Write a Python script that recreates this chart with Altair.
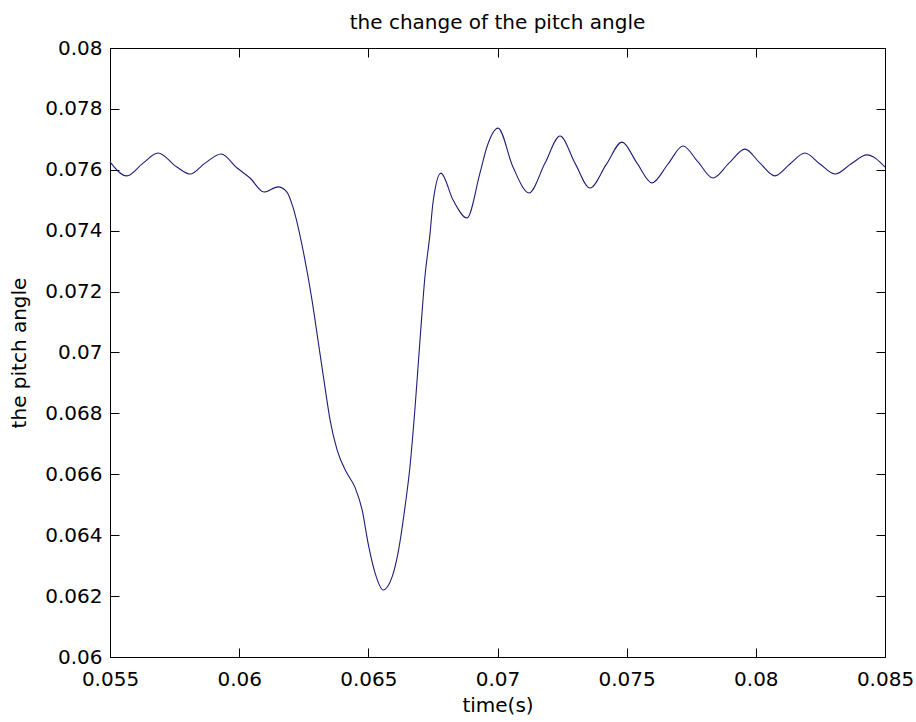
import altair as alt
import pandas as pd

# Pitch angle response over time
time_s = [
    0.0550, 0.05565, 0.05628, 0.05686, 0.05759, 0.05810, 0.05868, 0.05930,
    0.05992, 0.06042, 0.06096, 0.06150, 0.06185, 0.06208, 0.06247, 0.06282,
    0.06305, 0.06332, 0.06352, 0.06379, 0.06417, 0.06448, 0.06476, 0.06499,
    0.06526, 0.06557, 0.06592, 0.06615, 0.06642, 0.06661, 0.06681, 0.06700,
    0.06719, 0.06739, 0.06750, 0.06781, 0.06828, 0.06882, 0.06932, 0.06959,
    0.07002, 0.07060, 0.07122, 0.07184, 0.07242, 0.07300, 0.07358, 0.07420,
    0.07482, 0.07540, 0.07598, 0.07660, 0.07718, 0.07776, 0.07834, 0.07896,
    0.07958, 0.08016, 0.08074, 0.08132, 0.08190, 0.08248, 0.08307, 0.08368,
    0.08430, 0.08500,
]
pitch = [
    0.07626, 0.07580, 0.07622, 0.07655, 0.07609, 0.07586, 0.07622, 0.07652,
    0.07606, 0.07573, 0.07527, 0.07544, 0.07527, 0.07478, 0.07337, 0.07172,
    0.07041, 0.06887, 0.06778, 0.06680, 0.06604, 0.06558, 0.06483, 0.06374,
    0.06276, 0.06220, 0.06263, 0.06342, 0.06493, 0.06624, 0.06821, 0.07041,
    0.07248, 0.07392, 0.07490, 0.07589, 0.07501, 0.07442, 0.07589, 0.07675,
    0.07737, 0.07609, 0.07524, 0.07622, 0.07711, 0.07622, 0.07540, 0.07616,
    0.07691, 0.07622, 0.07557, 0.07619, 0.07678, 0.07626, 0.07573, 0.07622,
    0.07668, 0.07622, 0.07580, 0.07619, 0.07655, 0.07619, 0.07586, 0.07619,
    0.07649, 0.07609,
]

x_ticks = [0.055, 0.06, 0.065, 0.07, 0.075, 0.08, 0.085]
y_ticks = [0.06, 0.062, 0.064, 0.066, 0.068, 0.07, 0.072, 0.074, 0.076, 0.078, 0.08]

W, H = 775, 609
FONT = "DejaVu Sans"

df = pd.DataFrame({"time": time_s, "pitch": pitch})
xs = alt.Scale(domain=[0.055, 0.085], nice=False, zero=False)
ys = alt.Scale(domain=[0.06, 0.08], nice=False, zero=False)
base = alt.Chart(df)

# Visible curve with labelled axes (no outward ticks)
line = base.mark_line(color="#1e1e78", strokeWidth=1.1, interpolate="monotone").encode(
    x=alt.X("time:Q", scale=xs,
            axis=alt.Axis(orient="bottom", values=x_ticks, format=".3~f",
                          title="time(s)", tickSize=0, labelPadding=12,
                          titlePadding=6, domain=False, grid=False,
                          labelOverlap=False, labelFlush=False)),
    y=alt.Y("pitch:Q", scale=ys,
            axis=alt.Axis(orient="left", values=y_ticks, format=".3~f",
                          title="the pitch angle", tickSize=0, labelPadding=8,
                          titlePadding=15, domain=False, grid=False,
                          labelOverlap=False, labelFlush=False)),
)


def inward_ticks(x_orient, y_orient):
    # Axes pushed across the plot so their ticks point into the box
    return base.mark_line(strokeOpacity=0).encode(
        x=alt.X("time:Q", scale=xs,
                axis=alt.Axis(orient=x_orient, offset=-H, values=x_ticks,
                              labels=False, title="", tickSize=9, domain=False,
                              grid=False, tickColor="black")),
        y=alt.Y("pitch:Q", scale=ys,
                axis=alt.Axis(orient=y_orient, offset=-W, values=y_ticks,
                              labels=False, title="", tickSize=9, domain=False,
                              grid=False, tickColor="black")),
    )


chart = (
    alt.layer(line, inward_ticks("top", "right"), inward_ticks("bottom", "left"))
    .resolve_axis(x="independent", y="independent")
    .properties(
        width=W,
        height=H,
        title=alt.TitleParams("the change of the pitch angle", fontSize=20,
                              fontWeight="normal", font=FONT, color="black",
                              offset=5, anchor="middle"),
        autosize=alt.AutoSizeParams(type="none"),
        padding={"left": 110, "top": 48, "right": 31, "bottom": 65},
        background="white",
    )
    .configure_view(stroke="black", strokeWidth=1)
    .configure_axis(labelFont=FONT, titleFont=FONT, labelFontSize=20,
                    titleFontSize=20, labelColor="black", titleColor="black",
                    titleFontWeight="normal", tickColor="black")
)

chart.save("out.html", embed_options={"renderer": "svg", "actions": False})
